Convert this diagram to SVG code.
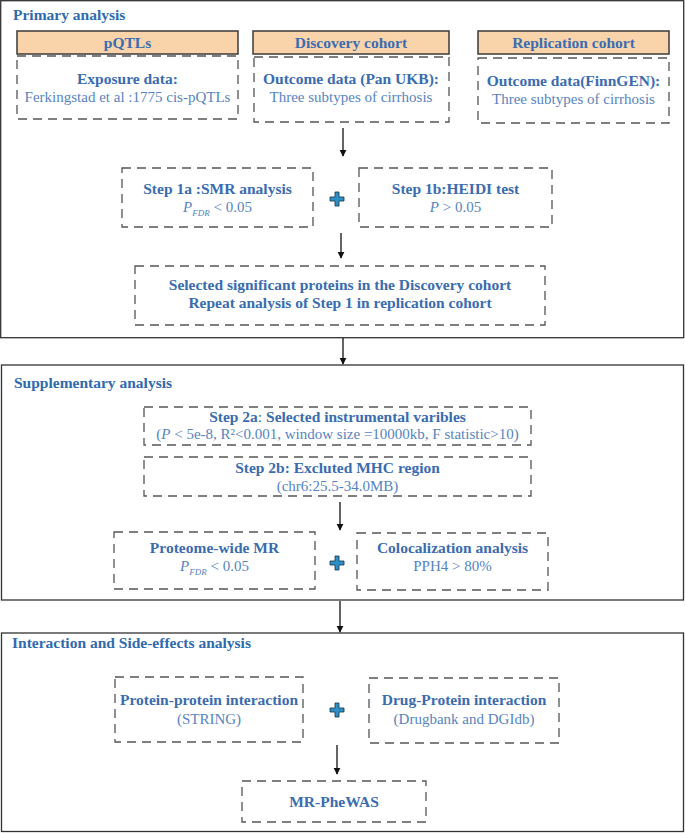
<svg xmlns="http://www.w3.org/2000/svg" width="685" height="833" viewBox="0 0 685 833" font-family="'Liberation Serif', 'DejaVu Serif', serif">
<style>
text{text-anchor:middle}
.t{font-family:'Liberation Serif',serif;font-size:15.5px;font-weight:bold;fill:#2f6aae;text-anchor:start}
.b{font-family:'Liberation Serif',serif;font-size:15.5px;font-weight:bold;fill:#3a6cb0}
.r{font-family:'Liberation Serif',serif;font-size:15px;fill:#5784c0}
.frame{fill:#fff;stroke:#333;stroke-width:1.3}
.hdr{fill:#f9d4aa;stroke:#3a3a3a;stroke-width:1.5}
.dash{fill:none;stroke:#555;stroke-width:1.3;stroke-dasharray:9 6}
.conn{stroke:#111;stroke-width:1.3;fill:none}
.plus{fill:#2d8fc4;stroke:#14344a;stroke-width:0.8}
</style>
<defs>
<marker id="ah" viewBox="0 0 10 10" refX="9" refY="5" markerWidth="7" markerHeight="9" markerUnits="userSpaceOnUse" orient="auto">
<path d="M0,0 L10,5 L0,10 Z" fill="#111"/>
</marker>
<path id="plusShape" d="M-2,-7 H2 V-2 H7 V2 H2 V7 H-2 V2 H-7 V-2 H-2 Z"/>
</defs>
<rect width="685" height="833" fill="#fff"/>

<g id="frame-primary">
<rect class="frame" x="0.7" y="0.7" width="683" height="337"/>
<text class="t" x="13" y="20">Primary analysis</text>
</g>
<g id="frame-supplementary">
<rect class="frame" x="1.5" y="365" width="682" height="235"/>
<text class="t" x="14" y="388">Supplementary analysis</text>
</g>
<g id="frame-interaction">
<rect class="frame" x="1.5" y="633" width="682" height="198.5"/>
<text class="t" x="12" y="648">Interaction and Side-effects analysis</text>
</g>

<g id="connectors">
<line class="conn" x1="343" y1="128" x2="343" y2="156" marker-end="url(#ah)"/>
<line class="conn" x1="341" y1="233" x2="341" y2="258" marker-end="url(#ah)"/>
<line class="conn" x1="343" y1="338" x2="343" y2="364" marker-end="url(#ah)"/>
<line class="conn" x1="340" y1="502" x2="340" y2="530" marker-end="url(#ah)"/>
<line class="conn" x1="340" y1="601" x2="340" y2="632" marker-end="url(#ah)"/>
<line class="conn" x1="337" y1="745" x2="337" y2="774" marker-end="url(#ah)"/>
</g>

<g id="pqtls">
<rect class="hdr" x="17" y="31" width="221" height="23"/>
<text class="b" x="127.5" y="48">pQTLs</text>
<rect class="dash" x="17" y="56" width="221" height="63"/>
<text class="b" x="127.5" y="84">Exposure data:</text>
<text class="r" x="127.5" y="102">Ferkingstad et al :1775 cis-pQTLs</text>
</g>
<g id="discovery">
<rect class="hdr" x="253" y="31" width="196" height="23"/>
<text class="b" x="351" y="48">Discovery cohort</text>
<rect class="dash" x="254" y="57" width="195" height="65"/>
<text class="b" x="351" y="84">Outcome data (Pan UKB):</text>
<text class="r" x="351" y="102">Three subtypes of cirrhosis</text>
</g>
<g id="replication">
<rect class="hdr" x="478" y="31" width="191" height="23"/>
<text class="b" x="573.5" y="48">Replication cohort</text>
<rect class="dash" x="478" y="58" width="191" height="65"/>
<text class="b" x="573.5" y="86">Outcome data(FinnGEN):</text>
<text class="r" x="573.5" y="104">Three subtypes of cirrhosis</text>
</g>

<g id="step1a">
<rect class="dash" x="122" y="168" width="191" height="59"/>
<text class="b" x="217.5" y="194">Step 1a :SMR analysis</text>
<text class="r" x="217.5" y="212"><tspan font-style="italic">P</tspan><tspan font-style="italic" font-size="9" dy="4">FDR</tspan><tspan dy="-4"> &lt; 0.05</tspan></text>
</g>
<g id="plus1"><use href="#plusShape" class="plus" x="337" y="199"/></g>
<g id="step1b">
<rect class="dash" x="359" y="168" width="193" height="59"/>
<text class="b" x="455.5" y="194">Step 1b:HEIDI test</text>
<text class="r" x="455.5" y="212"><tspan font-style="italic">P</tspan> &gt; 0.05</text>
</g>
<g id="selected">
<rect class="dash" x="135" y="266" width="410" height="59"/>
<text class="b" x="340" y="290">Selected significant proteins in the Discovery cohort</text>
<text class="b" x="340" y="308">Repeat analysis of Step 1 in replication cohort</text>
</g>

<g id="step2a">
<rect class="dash" x="144" y="407" width="387" height="38"/>
<text class="b" x="337.5" y="422">Step 2a<tspan font-weight="normal">:</tspan> Selected instrumental varibles</text>
<text class="r" x="337.5" y="439" font-size="14.5">(<tspan font-style="italic">P</tspan> &lt; 5e-8, R²&lt;0.001, window size =10000kb, F statistic&gt;10)</text>
</g>
<g id="step2b">
<rect class="dash" x="144" y="457" width="387" height="39"/>
<text class="b" x="337.5" y="473">Step 2b: Excluted MHC region</text>
<text class="r" x="337.5" y="491">(chr6:25.5-34.0MB)</text>
</g>
<g id="proteome-mr">
<rect class="dash" x="114" y="532" width="201" height="57"/>
<text class="b" x="214.5" y="553">Proteome-wide MR</text>
<text class="r" x="214.5" y="571"><tspan font-style="italic">P</tspan><tspan font-style="italic" font-size="9" dy="4">FDR</tspan><tspan dy="-4"> &lt; 0.05</tspan></text>
</g>
<g id="plus2"><use href="#plusShape" class="plus" x="337" y="563"/></g>
<g id="colocalization">
<rect class="dash" x="357" y="533" width="191" height="57"/>
<text class="b" x="452.5" y="553">Colocalization analysis</text>
<text class="r" x="452.5" y="571">PPH4 &gt; 80%</text>
</g>

<g id="ppi">
<rect class="dash" x="115" y="677" width="188" height="65"/>
<text class="b" x="209" y="705">Protein-protein interaction</text>
<text class="r" x="209" y="724" fill="#7f9ec8">(STRING)</text>
</g>
<g id="plus3"><use href="#plusShape" class="plus" x="337" y="710"/></g>
<g id="drug-protein">
<rect class="dash" x="369" y="678" width="190" height="65"/>
<text class="b" x="464" y="705">Drug-Protein interaction</text>
<text class="r" x="464" y="724">(Drugbank and DGIdb)</text>
</g>
<g id="mr-phewas">
<rect class="dash" x="242" y="781" width="184" height="41"/>
<text class="b" x="334" y="807">MR-PheWAS</text>
</g>
</svg>
